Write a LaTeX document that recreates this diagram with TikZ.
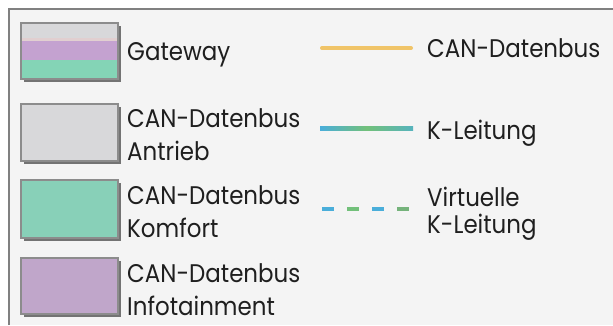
\documentclass[tikz,border=0pt]{standalone}
\usepackage{fontspec}
\setmainfont{Poppins}[FakeStretch=0.9]
\begin{document}
\begin{tikzpicture}[x=1pt,y=-1pt,
  framebg/.style={fill=black!4.5},
  frameline/.style={draw=black!50,line width=2pt},
  keybox/.style={draw=black!45,line width=1.6pt},
  keyshadow/.style={fill=black!55},
  lbl/.style={inner sep=0pt,anchor=base west,align=left,text=black!88},
  leftlbl/.style={lbl,font=\fontsize{25.5}{33}\selectfont},
  rightlbl/.style={lbl,font=\fontsize{25.5}{27}\selectfont},
]
\definecolor{boxgray}{HTML}{D8D8DA}
\definecolor{boxgreen}{HTML}{88D0B8}
\definecolor{boxpurple}{HTML}{C0A6CA}
\definecolor{gwpurple}{HTML}{C4A2D0}
\definecolor{gwgreen}{HTML}{84D4B6}
\definecolor{canorange}{HTML}{F0C468}
\definecolor{kblue}{HTML}{4AAEDA}
\definecolor{kgreen}{HTML}{72C07A}
\useasboundingbox (0,0) rectangle (613,325);
\fill[white] (0,0) rectangle (613,325);
\fill[framebg] (9,9) rectangle (613,325);
\draw[frameline] (9,325) -- (9,9) -- (613,9);
% box 1 gateway
\fill[keyshadow] (24,26) rectangle (121,82);
\fill[boxgray] (20,22) rectangle (117,38);
\fill[gray!8!pink!30!boxgray] (20,38) rectangle (117,41);
\fill[gwpurple] (20,41) rectangle (117,60);
\fill[gwgreen] (20,60) rectangle (117,78);
\node[keybox,minimum width=97pt,minimum height=56pt,inner sep=0pt,anchor=north west] (gw) at (20,22) {};
% box 2
\fill[keyshadow] (24,107) rectangle (121,164);
\node[keybox,fill=boxgray,minimum width=97pt,minimum height=57pt,inner sep=0pt,anchor=north west] (an) at (20,103) {};
% box 3
\fill[keyshadow] (24,183) rectangle (121,241);
\node[keybox,fill=boxgreen,minimum width=97pt,minimum height=58pt,inner sep=0pt,anchor=north west] (ko) at (20,179) {};
% box 4
\fill[keyshadow] (24,261) rectangle (121,317);
\node[keybox,fill=boxpurple,minimum width=97pt,minimum height=56pt,inner sep=0pt,anchor=north west] (inf) at (20,257) {};
% left labels (anchor = baseline of last line)
\node[leftlbl] (tgw) at (127,60) {Gateway};
\node[leftlbl] (tan) at (127,160) {CAN-Datenbus\\Antrieb};
\node[leftlbl] (tko) at (127,237) {CAN-Datenbus\\Komfort};
\node[leftlbl] (tin) at (127,315) {CAN-Datenbus\\Infotainment};
% right legend lines
\coordinate (c1) at (322,48);
\coordinate (c2) at (411,48);
\draw[line width=4pt,draw=canorange,line cap=round] (c1) -- (c2);
\shade[left color=kblue,right color=kblue!70!kgreen,middle color=kgreen] (320,126) rectangle (413,130);
\draw[line width=4pt,draw=kblue] (322,209) -- (334,209);
\draw[line width=4pt,draw=kgreen] (347,209) -- (359,209);
\draw[line width=4pt,draw=kblue] (372,209) -- (384,209);
\draw[line width=4pt,draw=kgreen!80!gray] (397,209) -- (409,209);
% right labels
\node[rightlbl] (tcan) at (427,57) {CAN-Datenbus};
\node[rightlbl] (tk) at (427,139) {K-Leitung};
\node[rightlbl] (tv) at (427,233) {Virtuelle\\K-Leitung};
\end{tikzpicture}
\end{document}
